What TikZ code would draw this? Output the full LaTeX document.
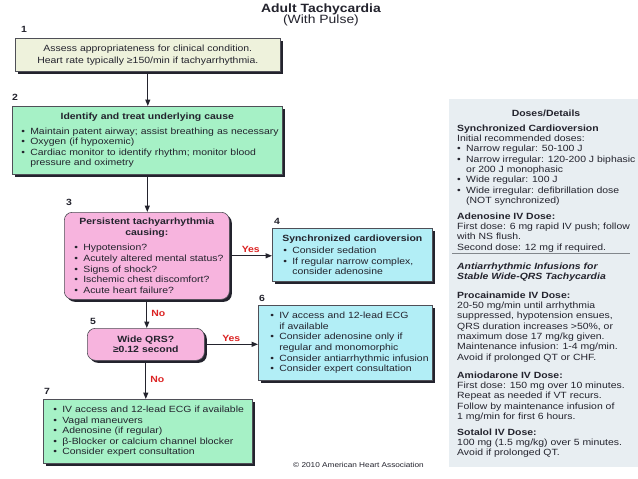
\documentclass[tikz,border=0pt]{standalone}
\usepackage{fontspec}
\setmainfont{Liberation Sans}[FakeStretch=1.16]
\usetikzlibrary{arrows.meta, shadows, calc}
\definecolor{assessyellow}{RGB}{238, 242, 220}
\definecolor{treatgreen}{RGB}{166, 241, 198}
\definecolor{askpink}{RGB}{247, 180, 222}
\definecolor{actcyan}{RGB}{178, 238, 246}
\definecolor{panelblue}{RGB}{232, 238, 242}
\definecolor{inkdark}{RGB}{35, 35, 45}
\definecolor{answerred}{RGB}{220, 35, 35}
\definecolor{rulegray}{RGB}{130, 135, 140}

\newcommand{\boxfont}{\fontsize{9}{10.6}\selectfont}
\newcommand{\panelfont}{\fontsize{9}{10.3}\selectfont}
\newcommand{\dotitem}{\makebox[9pt][l]{\textbullet}}
\newcommand{\contitem}{\makebox[9pt][l]{}}

\tikzset{
  stepbox/.style={draw=inkdark!80, line width=0.6pt, anchor=north west,
    inner xsep=0pt, inner ysep=0pt, text=inkdark, font=\boxfont,
    drop shadow={shadow xshift=2.5pt, shadow yshift=-2.5pt, fill=inkdark, opacity=1}},
  askbox/.style={stepbox, fill=askpink, rounded corners=8pt},
  actbox/.style={stepbox, fill=actcyan, align=left},
  flow/.style={draw=inkdark, line width=1.2pt, -{Triangle[length=6.5pt,width=5pt]}},
  answer/.style={font=\fontsize{9}{10}\selectfont\bfseries, text=answerred, inner sep=2.5pt},
  stepnum/.style={font=\fontsize{9}{10}\selectfont\bfseries, text=inkdark, inner sep=0pt},
  paneltext/.style={anchor=north west, inner sep=0pt, align=left, font=\panelfont, text=inkdark}
}

\begin{document}
\begin{tikzpicture}[x=1pt, y=-1pt]
\useasboundingbox (0,0) rectangle (638,479);
\fill[white] (0,0) rectangle (638,479);

% Title
\node[align=center, font=\fontsize{12}{11.5}\selectfont, text=inkdark] (title) at (321,15)
  {\textbf{Adult Tachycardia}\\(With Pulse)};

% Step 1
\node[stepnum] (num1) at (24,29) {1};
\node[stepbox, fill=assessyellow, align=center, minimum width=265pt, minimum height=33pt,
  text width=261pt] (assess) at (15,38)
  {Assess appropriateness for clinical condition.\\[1.4pt]
   Heart rate typically ≥150/min if tachyarrhythmia.};

% Step 2
\node[stepnum] (num2) at (15,97) {2};
\node[stepbox, fill=treatgreen, align=left, minimum width=270pt, minimum height=68pt,
  text width=266pt] (treat) at (12,106) {%
  {\centering\textbf{Identify and treat underlying cause}\par}\vspace{4pt}%
  \leftskip=7pt
  \dotitem Maintain patent airway; assist breathing as necessary\\
  \dotitem Oxygen (if hypoxemic)\\
  \dotitem\parbox[t]{240pt}{Cardiac monitor to identify rhythm; monitor blood\\
  pressure and oximetry}\par};

% Step 3
\node[stepnum] (num3) at (69,202) {3};
\node[askbox, align=left, minimum width=165pt, minimum height=87pt,
  text width=161pt] (persist) at (64,212) {%
  {\centering\textbf{Persistent tachyarrhythmia\\causing:}\par}\vspace{5pt}%
  \leftskip=8pt
  \dotitem Hypotension?\\
  \dotitem Acutely altered mental status?\\
  \dotitem Signs of shock?\\
  \dotitem Ischemic chest discomfort?\\
  \dotitem Acute heart failure?\par};

% Step 4
\node[stepnum] (num4) at (277,221) {4};
\node[actbox, minimum width=160pt, minimum height=53pt,
  text width=156pt] (cardio) at (272,228) {%
  {\centering\textbf{Synchronized cardioversion}\par}\vspace{1.5pt}%
  \leftskip=9pt
  \dotitem Consider sedation\\
  \dotitem If regular narrow complex,\\
  \contitem consider adenosine\par};

% Step 5
\node[stepnum] (num5) at (93,321) {5};
\node[askbox, align=center, minimum width=117pt, minimum height=32pt,
  text width=113pt] (wide) at (87,328) {\textbf{Wide QRS?\\≥0.12 second}};

% Step 6
\node[stepnum] (num6) at (262,298) {6};
\node[actbox, minimum width=174pt, minimum height=75pt,
  text width=170pt] (wideact) at (258,305) {%
  \leftskip=10pt
  \dotitem IV access and 12-lead ECG\\
  \contitem if available\\
  \dotitem Consider adenosine only if\\
  \contitem regular and monomorphic\\
  \dotitem Consider antiarrhythmic infusion\\
  \dotitem Consider expert consultation\par};

% Step 7
\node[stepnum] (num7) at (47,391) {7};
\node[stepbox, fill=treatgreen, align=left, minimum width=209pt, minimum height=64pt,
  text width=205pt] (narrow) at (43,399) {%
  \leftskip=8pt
  \dotitem IV access and 12-lead ECG if available\\
  \dotitem Vagal maneuvers\\
  \dotitem Adenosine (if regular)\\
  \dotitem β-Blocker or calcium channel blocker\\
  \dotitem Consider expert consultation\par};

% Connectors
\draw[flow] (assess.south) -- (assess.south |- treat.north);
\draw[flow] (treat.south) -- (treat.south |- persist.north);
\draw[flow] (persist.east) -- (persist.east -| cardio.west) node[answer, midway, above] {Yes};
\draw[flow] (persist.south) -- (persist.south |- wide.north) node[answer, midway, right, inner sep=4pt] {No};
\draw[flow] (wide.east) -- (wide.east -| wideact.west) node[answer, midway, above] {Yes};
\draw[flow] (wide.south) -- (wide.south |- narrow.north) node[answer, midway, right, inner sep=4pt] {No};

\node[font=\fontsize{7.1}{8}\selectfont, text=inkdark] (copyright) at (358.5,465)
  {\textcopyright{} 2010 American Heart Association};

% Doses panel
\node[fill=panelblue, anchor=north west, inner sep=0pt, minimum width=189pt,
  minimum height=368pt] (doses) at (449,99) {};
\node[font=\panelfont\bfseries, text=inkdark] (doseshead) at (546,113) {Doses/Details};
\node[paneltext] (synctext) at (457,124.5) {\textbf{Synchronized Cardioversion}\\
  Initial recommended doses:\\
  \dotitem Narrow regular: 50-100 J\\
  \dotitem Narrow irregular: 120-200 J biphasic\\
  \contitem or 200 J monophasic\\
  \dotitem Wide regular: 100 J\\
  \dotitem Wide irregular: defibrillation dose\\
  \contitem (NOT synchronized)};
\node[paneltext] (adenotext) at (457,212.5) {\textbf{Adenosine IV Dose:}\\
  First dose: 6 mg rapid IV push; follow\\
  with NS flush.\\
  Second dose: 12 mg if required.};
\draw[rulegray, line width=1pt] (452,253) -- (630,253);
\node[paneltext] (infustext) at (457,262.5) {\textbf{\itshape Antiarrhythmic Infusions for}\\
  \textbf{\itshape Stable Wide-QRS Tachycardia}};
\node[paneltext] (procatext) at (457,291.5) {\textbf{Procainamide IV Dose:}\\
  20-50 mg/min until arrhythmia\\
  suppressed, hypotension ensues,\\
  QRS duration increases >50\%, or\\
  maximum dose 17 mg/kg given.\\
  Maintenance infusion: 1-4 mg/min.\\
  Avoid if prolonged QT or CHF.};
\node[paneltext] (amiotext) at (457,371.5) {\textbf{Amiodarone IV Dose:}\\
  First dose: 150 mg over 10 minutes.\\
  Repeat as needed if VT recurs.\\
  Follow by maintenance infusion of\\
  1 mg/min for first 6 hours.};
\node[paneltext] (sotatext) at (457,428.5) {\textbf{Sotalol IV Dose:}\\
  100 mg (1.5 mg/kg) over 5 minutes.\\
  Avoid if prolonged QT.};
\end{tikzpicture}
\end{document}
